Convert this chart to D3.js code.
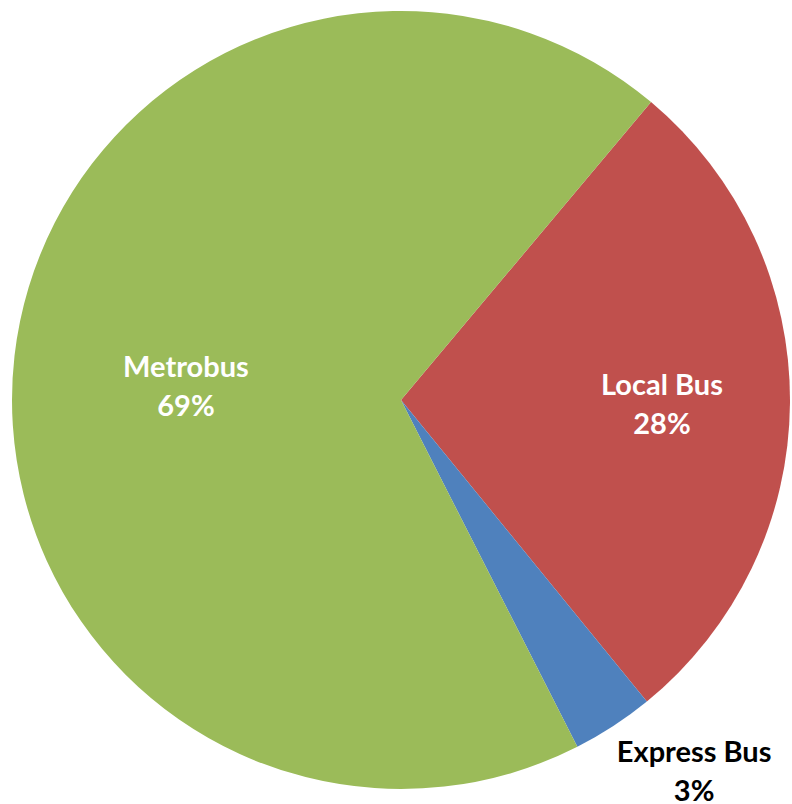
<!DOCTYPE html>
<html>
<head>
<meta charset="utf-8">
<script src="https://cdn.jsdelivr.net/npm/d3@7"></script>
<style>
  body { margin: 0; background: #ffffff; }
  svg text { font-family: Lato, "Open Sans", sans-serif; font-weight: bold; }
</style>
</head>
<body>
<div id="chart"></div>
<script>
// data
var categories = ["Local Bus", "Express Bus", "Metrobus"];
var shares = [28.0, 3.4, 68.6];
var colors = ["#C0504D", "#4F81BD", "#9BBB59"];

var data = categories.map(function(c, i) {
    return { name: c, value: shares[i], color: colors[i] };
});

function PieChart(id, data){

    d3.select(id).select("svg").remove();

    var width = 792, height = 804;
    var cx = 401, cy = 400, radius = 389;

    var svg = d3.select(id)
                .append("svg")
                .attr("width", width)
                .attr("height", height)
                .append("g")
                .attr("transform", "translate(" + cx + "," + cy + ")");

    var start = 40 * Math.PI / 180;
    var pie = d3.pie()
                .sort(null)
                .value(function(d) { return d.value; })
                .startAngle(start)
                .endAngle(start + 2 * Math.PI);

    var arc = d3.arc().innerRadius(0).outerRadius(radius);

    var arcs = pie(data);

    // slices
    svg.selectAll("path.slice")
        .data(arcs)
        .enter()
        .append("path")
        .attr("class", "slice")
        .attr("d", arc)
        .attr("fill", function(d) { return d.data.color; });

    // label placement: fraction of radius and angle shift (deg) from slice mid angle
    var labelPos = {
        "Local Bus":   { r: 0.671, da: -1.5 },
        "Express Bus": { r: 1.198, da: -5.9 },
        "Metrobus":    { r: 0.556, da: -0.4 }
    };

    var labels = svg.selectAll("text.label")
        .data(arcs)
        .enter()
        .append("text")
        .attr("class", "label")
        .attr("text-anchor", "middle")
        .style("font-size", "29px")
        .attr("fill", function(d) { return d.data.name === "Express Bus" ? "#000000" : "#ffffff"; })
        .attr("transform", function(d) {
            var p = labelPos[d.data.name];
            var a = (d.startAngle + d.endAngle) / 2 + p.da * Math.PI / 180;
            var r = p.r * radius;
            return "translate(" + (r * Math.sin(a)) + "," + (-r * Math.cos(a)) + ")";
        });

    labels.append("tspan")
        .attr("x", 0)
        .attr("dy", 0)
        .text(function(d) { return d.data.name; });

    labels.append("tspan")
        .attr("x", 0)
        .attr("dy", 39)
        .text(function(d) { return Math.round(d.data.value) + "%"; });
}

PieChart("#chart", data);
</script>
</body>
</html>
